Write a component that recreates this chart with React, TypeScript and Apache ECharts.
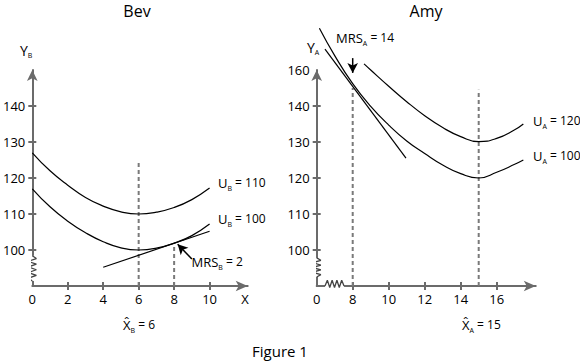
import React, { useEffect, useRef } from "react";
import * as echarts from "echarts";

const FONT = "Open Sans";
const AXIS_COLOR = "#6b6b6b";
const DASH_COLOR = "#7a7a7a";

// ---------- Bev ----------
const bevX = [0, 1, 2, 3, 4, 5, 6, 7, 8, 9, 10];
const bevU110 = [127, 122, 118, 114.6, 112.2, 110.6, 110, 110.5, 111.8, 114, 117.2];
const bevU100 = [117, 112, 108, 104.8, 102.3, 100.6, 100, 100.5, 101.9, 104, 107.2];
const bevTangent = [[4, 95.2], [10, 105.2]];
const bevDash6 = [[6, 90], [6, 124.5]];
const bevDash8 = [[8, 90], [8, 101.9]];
const bevArrow = [[9, 97.5], [8.2, 101.6]];
const bevXTicks = [2, 4, 6, 8, 10];
const bevXLabels = [0, 2, 4, 6, 8, 10, 12];
const bevYTicks = [100, 110, 120, 130, 140];
const bevYLabels = [100, 110, 120, 130, 140];

// ---------- Amy ----------
const amyU100X = [6.15, 7, 8, 9, 10, 11, 12, 13, 14, 15, 16, 17, 17.48];
const amyU100 = [161.6, 154, 146.2, 139.9, 134.7, 130.3, 126.8, 123.6, 121.2, 120, 121.6, 123.8, 125];
const amyU120X = [8.63, 9, 10, 11, 12, 13, 14, 15, 16, 17, 17.48];
const amyU120 = [151.7, 150, 145.5, 141.2, 137.3, 134, 131.5, 130.1, 131, 133.4, 135];
const amyTangent = [[6.46, 155.8], [10.96, 125.5]];
const amyDash8 = [[8, 90], [8, 145]];
const amyDash15 = [[15, 90], [15, 144.5]];
const amyArrow = [[8, 153.3], [8, 149.2]];
const amyXTicks = [8, 10, 12, 14, 16];
const amyXLabels = [6, 8, 10, 12, 14, 16];
const amyYTicks = [100, 110, 120, 130, 140];
const amyYLabels = [100, 110, 120, 130, 140, 150];

function zigzagY(x0: number, from: number, to: number, dx: number, n: number) {
  const pts: number[][] = [[x0, from]];
  for (let i = 1; i < n; i++) {
    pts.push([x0 + (i % 2 ? dx : -dx), from + ((to - from) * i) / n]);
  }
  pts.push([x0, to]);
  return pts;
}
function zigzagX(y0: number, from: number, to: number, up: number, down: number, n: number) {
  const pts: number[][] = [[from, y0]];
  for (let i = 1; i < n; i++) {
    pts.push([from + ((to - from) * i) / n, i % 2 ? y0 + up : y0 - down]);
  }
  pts.push([to, y0]);
  return pts;
}

const lineStyleAxis = { color: AXIS_COLOR, width: 2 };

function mainX(gridIndex: number, min: number, max: number, ticks: number[], labels: number[], fmt: (v: number) => string) {
  return {
    type: "value", gridIndex, min, max, position: "bottom",
    axisLine: { show: true, onZero: false, symbol: ["none", "arrow"], symbolSize: [8, 12], lineStyle: lineStyleAxis },
    axisTick: { show: true, customValues: ticks, length: 4, inside: false, lineStyle: lineStyleAxis },
    axisLabel: { show: true, customValues: labels, formatter: fmt, margin: 6, color: "#000", fontFamily: FONT, fontSize: 13 },
    splitLine: { show: false },
  };
}
function innerX(gridIndex: number, min: number, max: number, ticks: number[]) {
  return {
    type: "value", gridIndex, min, max, position: "bottom", offset: 0,
    axisLine: { show: false, onZero: false },
    axisTick: { show: true, customValues: ticks, length: 4, inside: true, lineStyle: lineStyleAxis },
    axisLabel: { show: false },
    splitLine: { show: false },
  };
}
function mainY(gridIndex: number, ticks: number[], labels: number[], fmt: (v: number) => string) {
  return {
    type: "value", gridIndex, min: 90, max: 150, position: "left",
    axisLine: { show: true, onZero: false, symbol: ["none", "arrow"], symbolSize: [8, 11], lineStyle: lineStyleAxis },
    axisTick: { show: true, customValues: ticks, length: 4, inside: false, lineStyle: lineStyleAxis },
    axisLabel: { show: true, customValues: labels, formatter: fmt, margin: 7, color: "#000", fontFamily: FONT, fontSize: 13 },
    splitLine: { show: false },
  };
}
function innerY(gridIndex: number, ticks: number[]) {
  return {
    type: "value", gridIndex, min: 90, max: 150, position: "left", offset: 0,
    axisLine: { show: false, onZero: false },
    axisTick: { show: true, customValues: ticks, length: 4, inside: true, lineStyle: lineStyleAxis },
    axisLabel: { show: false },
    splitLine: { show: false },
  };
}

function curve(name: string, gi: number, data: number[][], smooth: boolean | number = true) {
  return {
    name, type: "line", xAxisIndex: gi, yAxisIndex: gi, data, smooth, symbol: "none", clip: false,
    lineStyle: { color: "#000", width: 1.2 }, silent: true, z: 3,
  };
}
function dashed(name: string, gi: number, data: number[][]) {
  return {
    name, type: "line", xAxisIndex: gi, yAxisIndex: gi, data, symbol: "none", clip: false,
    lineStyle: { color: DASH_COLOR, width: 2, type: [4, 3] }, silent: true, z: 2,
  };
}
function arrow(name: string, gi: number, pts: number[][]) {
  return {
    name, type: "line", xAxisIndex: gi, yAxisIndex: gi, data: [], symbol: "none", silent: true, clip: false,
    markLine: {
      silent: true, symbol: ["none", "arrow"], symbolSize: [8, 10],
      label: { show: false },
      lineStyle: { color: "#000", width: 1.5, type: "solid" },
      data: [[{ coord: pts[0] }, { coord: pts[1] }]],
    },
  };
}
function downArrow(name: string, gi: number, pts: number[][]) {
  return {
    name, type: "line", xAxisIndex: gi, yAxisIndex: gi, silent: true, clip: false, showAllSymbol: true,
    data: [
      { value: pts[0], symbol: "none" },
      { value: pts[1], symbol: "arrow", symbolSize: [8, 10], symbolRotate: 180 },
    ],
    itemStyle: { color: "#000" },
    lineStyle: { color: "#000", width: 1.5 }, z: 5,
  };
}
function cover(name: string, gi: number, data: number[][]) {
  return {
    name, type: "line", xAxisIndex: gi, yAxisIndex: gi, data, symbol: "none", clip: false,
    lineStyle: { color: "#fff", width: 4 }, silent: true, z: 4,
  };
}
function zig(name: string, gi: number, data: number[][]) {
  return {
    name, type: "line", xAxisIndex: gi, yAxisIndex: gi, data, symbol: "none", clip: false,
    lineStyle: { color: "#444", width: 1.3 }, silent: true, z: 5,
  };
}

const richBase = (main: number) => ({
  m: { fontSize: main, fontFamily: FONT, lineHeight: 16, verticalAlign: "top", fill: "#000" },
  n: { fontSize: 12, fontFamily: FONT, lineHeight: 16, verticalAlign: "top", fill: "#000" },
  s: { fontSize: 7, fontFamily: FONT, lineHeight: 16, verticalAlign: "bottom", fill: "#000" },
});

function subText(x: number, cy: number, main: string, s: string, rest: string, size = 13) {
  return {
    type: "text", x, y: cy - 8, silent: true,
    style: {
      text: `{m|${main}}{s|${s}}` + (rest ? `{n|${rest}}` : ""),
      rich: richBase(size), align: "left", verticalAlign: "top",
    },
  };
}
function plainText(x: number, cy: number, text: string, size: number) {
  return {
    type: "text", x, y: cy, silent: true,
    style: { text, fontFamily: FONT, fontSize: size, fill: "#000", align: "center", verticalAlign: "middle" },
  };
}

export default function App() {
  const ref = useRef<HTMLDivElement>(null);
  useEffect(() => {
    const chart = echarts.init(ref.current!, null, { renderer: "svg" });
    const option: any = {
      animation: false,
      backgroundColor: "#fff",
      grid: [
        { left: 29, top: 70, width: 18 * 12.15, height: 216, containLabel: false },
        { left: 316.7, top: 70, width: 18 * (18.17 - 6), height: 216, containLabel: false },
      ],
      xAxis: [
        mainX(0, 0, 12.15, bevXTicks, bevXLabels, (v: number) => (v === 12 ? "X" : String(v))),
        mainX(1, 6, 18.17, amyXTicks, amyXLabels, (v: number) => (v === 6 ? "0" : String(v))),
        innerX(0, 0, 12.15, bevXTicks),
        innerX(1, 6, 18.17, amyXTicks),
      ],
      yAxis: [
        mainY(0, bevYTicks, bevYLabels, (v: number) => String(v)),
        mainY(1, amyYTicks, amyYLabels, (v: number) => (v === 150 ? "160" : String(v))),
        innerY(0, bevYTicks),
        innerY(1, amyYTicks),
      ],
      series: [
        curve("U_B=110", 0, bevX.map((x, i) => [x, bevU110[i]])),
        curve("U_B=100", 0, bevX.map((x, i) => [x, bevU100[i]])),
        curve("Bev tangent", 0, bevTangent, false),
        dashed("Bev x=6", 0, bevDash6),
        dashed("Bev x=8", 0, bevDash8),
        arrow("MRS_B", 0, bevArrow),
        cover("Bev y cover", 0, [[0, 98.4], [0, 91.4]]),
        zig("Bev y break", 0, zigzagY(0, 98.4, 91.4, 0.23, 9)),

        curve("U_A=120", 1, amyU120X.map((x, i) => [x, amyU120[i]])),
        curve("U_A=100", 1, amyU100X.map((x, i) => [x, amyU100[i]])),
        curve("Amy tangent", 1, amyTangent, false),
        dashed("Amy x=8", 1, amyDash8),
        dashed("Amy x=15", 1, amyDash15),
        downArrow("MRS_A", 1, amyArrow),
        cover("Amy y cover", 1, [[6, 97.8], [6, 92.5]]),
        zig("Amy y break", 1, zigzagY(6, 97.8, 92.5, 0.23, 8)),
        cover("Amy x cover", 1, [[6.46, 90], [7.52, 90]]),
        zig("Amy x break", 1, zigzagX(90, 6.46, 7.52, 1.6, 0.4, 8)),
      ],
      graphic: [
        plainText(137, 11, "Bev", 16),
        plainText(426, 11, "Amy", 16),
        plainText(280, 351, "Figure 1", 15),
        subText(20, 51, "Y", "B", "", 14),
        subText(307, 48, "Y", "A", "", 14),
        subText(218, 184, "U", "B", " = 110"),
        subText(218, 220, "U", "B", " = 100"),
        subText(191.5, 263, "MRS", "B", " = 2"),
        subText(336, 39, "MRS", "A", " = 14"),
        subText(533, 122, "U", "A", " = 120"),
        subText(533, 157, "U", "A", " = 100"),
        subText(123, 326, "X\u0302", "B", " = 6"),
        subText(462, 326, "X\u0302", "A", " = 15"),
      ],
    };
    chart.setOption(option);
    return () => chart.dispose();
  }, []);
  return (
    <div
      ref={ref}
      style={{ position: "fixed", left: 0, top: 0, width: 580, height: 363, background: "#fff" }}
    />
  );
}
